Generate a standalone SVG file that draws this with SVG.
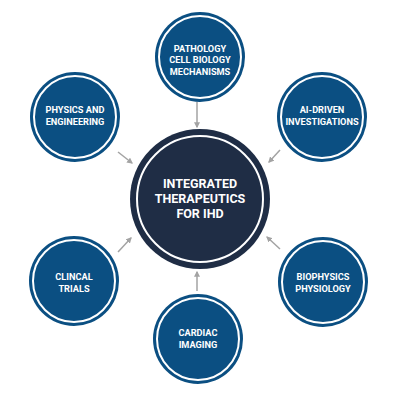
<svg xmlns="http://www.w3.org/2000/svg" width="400" height="400" viewBox="0 0 400 400">
<defs>
<style>
.node{fill:#0b4f82}
.ring{fill:none;stroke:#ffffff;stroke-width:2}
.lbl{font-family:Roboto,"Liberation Sans",sans-serif;font-weight:700;font-size:9.2px;fill:#ffffff;text-anchor:middle}
.clbl{font-family:Roboto,"Liberation Sans",sans-serif;font-weight:700;font-size:12.5px;fill:#ffffff;text-anchor:middle}
.conn{stroke:#a3a3a3;stroke-width:1.5;fill:none;marker-end:url(#ah)}
</style>
<marker id="ah" viewBox="0 0 10 10" refX="8" refY="5" markerWidth="4" markerHeight="4" orient="auto">
<path d="M0,0 L10,5 L0,10 z" fill="#a3a3a3"/>
</marker>
</defs>
<rect width="400" height="400" fill="#ffffff"/>
<g id="connectors">
<line class="conn" x1="197" y1="102" x2="197" y2="127"/>
<line class="conn" x1="118" y1="152" x2="132" y2="163"/>
<line class="conn" x1="280" y1="150" x2="269" y2="162"/>
<line class="conn" x1="118" y1="252" x2="131" y2="238"/>
<line class="conn" x1="280" y1="249" x2="267" y2="237"/>
<line class="conn" x1="197" y1="291" x2="197" y2="272"/>
</g>
<g id="center">
<circle cx="200" cy="199" r="70" fill="#1f2d45"/>
<circle cx="200" cy="199" r="63" class="ring"/>
<text class="clbl" x="200" y="188">INTEGRATED</text>
<text class="clbl" x="200" y="203">THERAPEUTICS</text>
<text class="clbl" x="200" y="218">FOR IHD</text>
</g>
<g id="pathology">
<circle cx="200" cy="57" r="45" class="node"/>
<circle cx="200" cy="57" r="41" class="ring"/>
<text class="lbl" x="200" y="51.5">PATHOLOGY</text>
<text class="lbl" x="200" y="63">CELL BIOLOGY</text>
<text class="lbl" x="200" y="74.5">MECHANISMS</text>
</g>
<g id="ai">
<circle cx="322" cy="117" r="45" class="node"/>
<circle cx="322" cy="117" r="41" class="ring"/>
<text class="lbl" x="322" y="113">AI-DRIVEN</text>
<text class="lbl" x="322" y="125">INVESTIGATIONS</text>
</g>
<g id="physics">
<circle cx="75" cy="117" r="45" class="node"/>
<circle cx="75" cy="117" r="41" class="ring"/>
<text class="lbl" x="75" y="113">PHYSICS AND</text>
<text class="lbl" x="75" y="125">ENGINEERING</text>
</g>
<g id="biophysics">
<circle cx="323" cy="282" r="45" class="node"/>
<circle cx="323" cy="282" r="41" class="ring"/>
<text class="lbl" x="323" y="280">BIOPHYSICS</text>
<text class="lbl" x="323" y="292">PHYSIOLOGY</text>
</g>
<g id="clinical">
<circle cx="74" cy="281" r="45" class="node"/>
<circle cx="74" cy="281" r="41" class="ring"/>
<text class="lbl" x="74" y="280">CLINCAL</text>
<text class="lbl" x="74" y="292">TRIALS</text>
</g>
<g id="cardiac">
<circle cx="198" cy="339" r="45" class="node"/>
<circle cx="198" cy="339" r="41" class="ring"/>
<text class="lbl" x="198" y="336">CARDIAC</text>
<text class="lbl" x="198" y="348">IMAGING</text>
</g>
</svg>
